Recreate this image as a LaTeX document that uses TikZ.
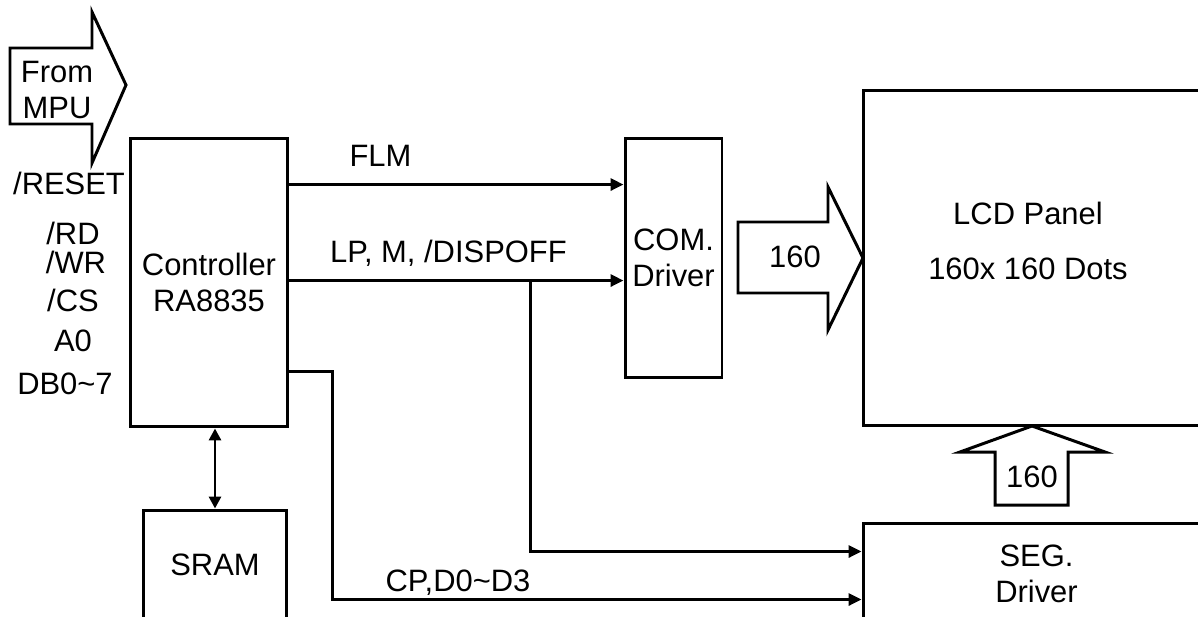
\documentclass[tikz,border=0pt]{standalone}
\usepackage{fontspec}
\setmainfont{Liberation Sans}
\usetikzlibrary{positioning, calc, arrows.meta}

\begin{document}
\begin{tikzpicture}[x=0.02cm, y=-0.02cm,
		font=\fontsize{17.6}{20.5}\selectfont,
		blk/.style={draw, line width=1.7pt, align=center, inner sep=0pt},
		sig/.style={line width=1.7pt, -{Triangle[length=0.26cm, width=0.24cm]}},
		bus/.style={line width=1.7pt, {Triangle[length=0.24cm, width=0.24cm]}-{Triangle[length=0.24cm, width=0.24cm]}},
		fat/.style={draw, line width=1.7pt, line join=miter},
		pin/.style={inner sep=0pt, text height=12.8pt, text depth=0pt}]

	\useasboundingbox (0,0) rectangle (1198,616);
	\clip (0,0) rectangle (1198,616);

	% blocks
	\node[blk, minimum width=3.16cm, minimum height=5.78cm] (ctrl) at (209,282.5) {Controller\\RA8835};
	\node[blk, minimum width=2.88cm, minimum height=2.2cm] (sram) at (215,565) {SRAM};
	\node[blk, minimum width=1.94cm, minimum height=4.8cm] (com) at (673.5,258) {COM.\\Driver};
	\node[blk, minimum width=6.94cm, minimum height=6.72cm] (lcd) at (1036.5,258) {};
	\node[align=center] (lcdtxt) at (1028,240.5) {LCD Panel\\[0.38cm]160x 160 Dots};
	\node[blk, minimum width=6.94cm, minimum height=2.04cm] (seg) at (1036.5,574) {SEG.\\Driver};

	% host bus
	\draw[fat] (10,48) -- (92,48) -- (92,12) -- (126,85) -- (92,163) -- (92,124) -- (10,124) -- cycle;
	\node[align=center] (mpu) at (57,90) {From\\MPU};
	\node[pin] (rst) at (69,183) {/RESET};
	\node[pin] (rd) at (73,233) {/RD};
	\node[pin] (wr) at (76,262) {/WR};
	\node[pin] (cs) at (73,300) {/CS};
	\node[pin] (azero) at (73,340) {A0};
	\node[pin] (db) at (65,383) {DB0\textasciitilde 7};

	% signals
	\draw[sig] ($(ctrl.north east)+(0,48)$) coordinate (flm) -- (flm -| com.west);
	\node[pin] (flmlbl) at ($(flm)+(91,-29)$) {FLM};
	\draw[sig] ($(ctrl.north east)+(0,144)$) coordinate (lp) -- (lp -| com.west);
	\node[pin] (lplbl) at ($(lp)+(159,-29)$) {LP, M, /DISPOFF};
	\draw[sig] ($(lp)+(241,0)$) |- ($(seg.north west)+(0,30)$);
	\draw[sig] ($(ctrl.north east)+(0,235)$) -- ++(43,0) |- ($(seg.north west)+(0,78)$);
	\node[pin] (cplbl) at (458,580) {CP,D0\textasciitilde D3};
	\draw[bus] (sram.north) -- (sram.north |- ctrl.south);

	% data to panel
	\draw[fat] (738,222) -- (828,222) -- (828,187) -- (863,258) -- (828,330) -- (828,293) -- (738,293) -- cycle;
	\node (comlcd) at (795,257) {160};
	\draw[fat] (995,505) -- (995,452) -- (960,452) -- (1032,426) -- (1105,452) -- (1068,452) -- (1068,505) -- cycle;
	\node (seglcd) at (1032,477) {160};
\end{tikzpicture}
\end{document}
